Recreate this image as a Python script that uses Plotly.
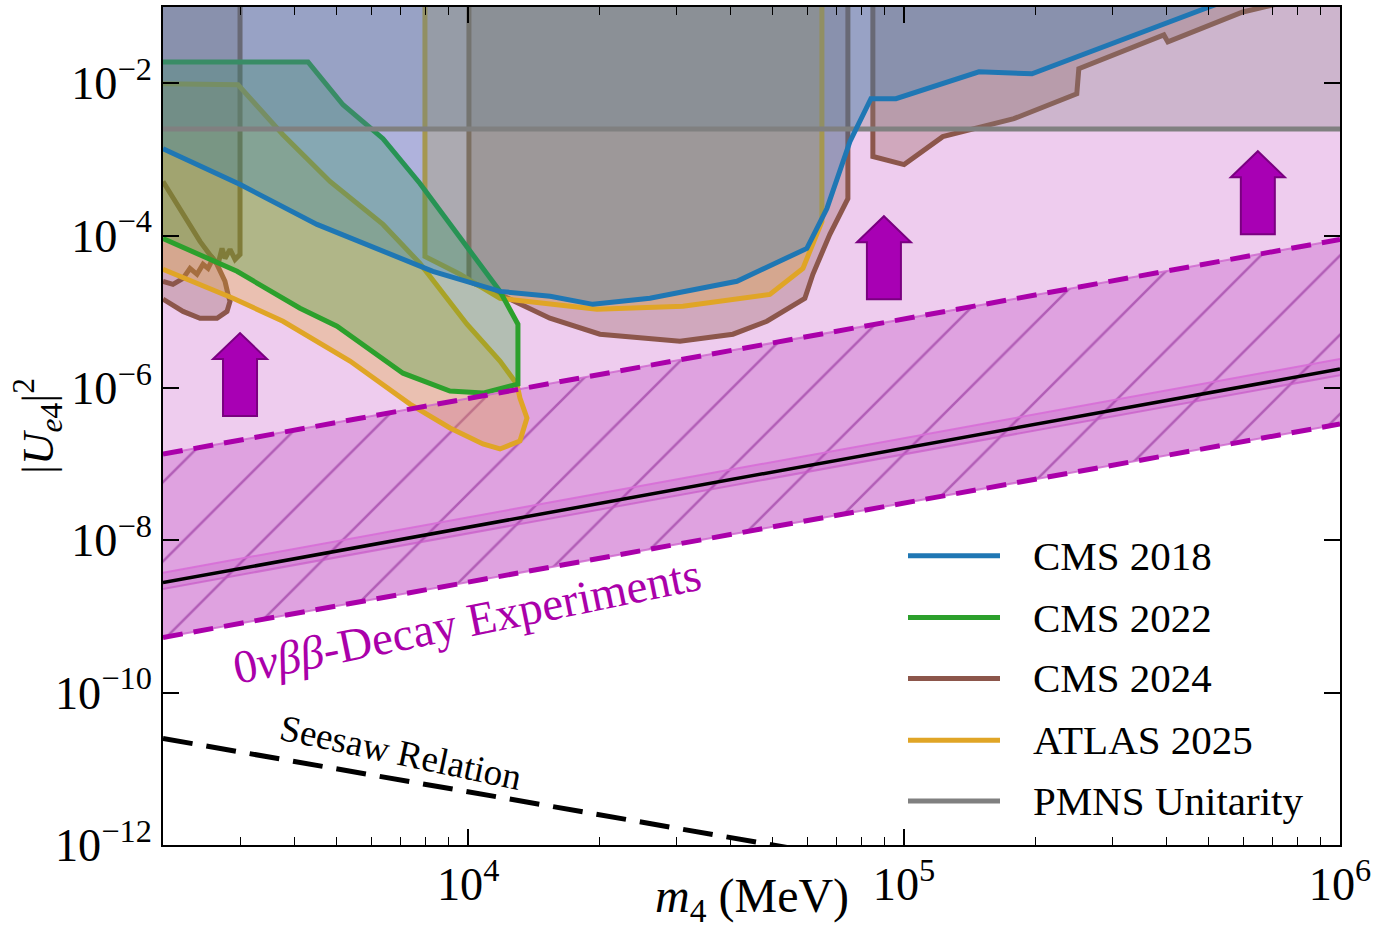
import numpy as np
import plotly.graph_objects as go

# ------------------------------------------------------------------ data
U_TOP = 1.0          # closes exclusion regions above the visible range
M_LEFT = 1995.0
M_RIGHT = 1.0e6

# CMS 2018 (excluded above the line)
cms2018_m = [1995, 3000, 4500, 6380, 8300, 11830, 15420, 19330, 26120, 41360,
             59840, 66520, 75110, 83930, 95770, 148500, 196500, 487200, 618000]
cms2018_U = [1.38e-3, 4.67e-4, 1.40e-4, 6.19e-5, 3.39e-5, 1.85e-5, 1.60e-5, 1.25e-5,
             1.50e-5, 2.51e-5, 6.78e-5, 2.26e-4, 1.71e-3, 6.25e-3, 6.25e-3, 1.41e-2,
             1.33e-2, 9.42e-2, 0.157]

# CMS 2022 (closed island)
cms2022_m = [1995, 4292, 5163, 6378, 7753, 9730, 11831, 13008, 13008, 10812, 9085,
             7088, 5002, 4114, 2950, 1995]
cms2022_U = [1.90e-2, 1.90e-2, 5.21e-3, 1.87e-3, 4.82e-4, 8.38e-5, 1.85e-5, 6.85e-6,
             1.12e-6, 8.55e-7, 9.10e-7, 1.56e-6, 6.46e-6, 1.11e-5, 3.39e-5, 9.16e-5]

# CMS 2024 (four pieces)
cms2024_a_m = [2997, 2997, 2919, 2843, 2768, 2725, 2668, 2598, 2531, 2465, 2388, 2301,
               2218, 2103, 1995]
cms2024_a_U = [U_TOP, 5.66e-5, 4.86e-5, 6.58e-5, 5.01e-5, 6.78e-5, 4.19e-5, 5.01e-5,
               3.71e-5, 4.19e-5, 3.10e-5, 3.71e-5, 2.74e-5, 2.29e-5, 2.51e-5]
cms2024_b_m = [1995, 2218, 2426, 2654, 2768, 2813, 2843, 2798, 2654, 2426, 2218, 2070, 1995]
cms2024_b_U = [5.12e-4, 1.89e-4, 8.38e-5, 4.19e-5, 2.51e-5, 1.69e-5, 1.37e-5, 1.01e-5,
               8.22e-6, 8.22e-6, 1.01e-5, 1.29e-5, 1.46e-5]
cms2024_c_m = [10042, 10042, 11831, 15400, 20060, 26120, 30610, 40490, 48450, 59210,
               61770, 67570, 74320, 74320]
cms2024_c_U = [U_TOP, 2.51e-5, 1.69e-5, 8.22e-6, 5.07e-6, 4.37e-6, 4.10e-6, 5.07e-6,
               7.50e-6, 1.50e-5, 3.10e-5, 1.04e-4, 3.06e-4, U_TOP]
cms2024_d_m = [84800, 84800, 100000, 122700, 178600, 216000, 249000, 251700, 394400,
               402800, 598600, 668700, 1000000, 1000000]
cms2024_d_U = [U_TOP, 1.09e-3, 8.53e-4, 1.99e-3, 3.42e-3, 5.21e-3, 7.26e-3, 1.55e-2,
               4.30e-2, 3.48e-2, 8.61e-2, 0.10, 0.17, U_TOP]

# ATLAS 2025 (island + upper region)
atlas_a_m = [1995, 2965, 3760, 4820, 6378, 7753, 9937, 11831, 12940, 13147, 13644,
             13147, 11831, 10812, 9085, 7355, 5357, 3760, 2888, 1995]
atlas_a_U = [9.8e-3, 9.52e-3, 2.11e-3, 5.12e-4, 1.40e-4, 4.31e-5, 6.85e-6, 2.25e-6,
             1.12e-6, 7.36e-7, 4.03e-7, 2.01e-7, 1.58e-7, 1.84e-7, 2.98e-7, 6.13e-7,
             2.25e-6, 7.50e-6, 1.50e-5, 3.60e-5]
atlas_b_m = [7960, 7960, 9576, 11831, 19740, 31100, 49220, 58610, 64790, 64790]
atlas_b_U = [U_TOP, 5.32e-5, 3.10e-5, 1.50e-5, 1.08e-5, 1.18e-5, 1.69e-5, 3.71e-5,
             1.53e-4, U_TOP]

# PMNS unitarity bound
pmns_U = 2.5e-3

# 0vbb band
band_m = [1995, 1.0e6]
band_upper = [1.35e-7, 8.9e-5]
band_lower = [5.3e-10, 3.36e-7]
central_U = [2.78e-9, 1.77e-6]
central_hi = [3.75e-9, 2.40e-6]
central_lo = [2.30e-9, 1.47e-6]

# Seesaw relation
seesaw_m = [1995, 1.0e5]
seesaw_U = [2.5e-11, 5.0e-13]

# arrows (bottom-centre anchors)
arrow_m = [2997, 89900, 647900]
arrow_U = [4.27e-7, 1.46e-5, 1.04e-4]

# text labels
label_0vbb = "0<i>νββ</i>-Decay Experiments"
label_0vbb_pos = (9930, 8.6e-10)
label_seesaw = "Seesaw Relation"
label_seesaw_pos = (7015, 1.65e-11)

legend_labels = ["CMS 2018", "CMS 2022", "CMS 2024", "ATLAS 2025", "PMNS Unitarity"]
C_BLUE, C_GREEN, C_BROWN, C_GOLD, C_GREY = "#1f77b4", "#2ca02c", "#8c564b", "#e0a526", "#808080"
legend_colors = [C_BLUE, C_GREEN, C_BROWN, C_GOLD, C_GREY]

FONT = "Liberation Serif"


def rgba(hexc, a):
    h = hexc.lstrip("#")
    return "rgba(%d,%d,%d,%.3f)" % (int(h[0:2], 16), int(h[2:4], 16), int(h[4:6], 16), a)


def join(*segs):
    xs, ys = [], []
    for mx, uy in segs:
        xs += list(mx) + [None]
        ys += list(uy) + [None]
    return xs, ys


def fill_trace(xs, ys, color):
    return go.Scatter(x=xs, y=ys, mode="lines", fill="toself", fillcolor=color,
                      line=dict(width=0, color=color), hoverinfo="skip", showlegend=False)


def line_trace(xs, ys, color, width=5, dash="solid"):
    return go.Scatter(x=xs, y=ys, mode="lines", line=dict(color=color, width=width, dash=dash),
                      hoverinfo="skip", showlegend=False, connectgaps=False)


fig = go.Figure()

# pink region above the 0vbb upper bound
fig.add_trace(fill_trace([M_LEFT, M_RIGHT, M_RIGHT, M_LEFT],
                         [band_upper[0], band_upper[1], U_TOP, U_TOP], "rgb(238,204,238)"))
# hatched 0vbb band
fig.add_trace(go.Scatter(x=band_m + band_m[::-1], y=band_upper + band_lower[::-1],
                         mode="lines", fill="toself", fillcolor="rgb(223,162,224)",
                         fillpattern=dict(shape="/", fgcolor="rgba(115,0,125,0.85)",
                                          bgcolor="rgb(223,162,224)", size=56, solidity=0.045),
                         line=dict(width=0), hoverinfo="skip", showlegend=False))
# central band
fig.add_trace(fill_trace(band_m + band_m[::-1], central_hi + central_lo[::-1],
                         "rgba(185,40,185,0.18)"))
fig.add_trace(line_trace(band_m, central_hi, "rgba(215,110,215,0.9)", width=2))
fig.add_trace(line_trace(band_m, central_lo, "rgba(200,90,200,0.7)", width=2))

# CMS 2024
bx, by = join((cms2024_a_m + [M_LEFT], cms2024_a_U + [U_TOP]),
              (cms2024_b_m, cms2024_b_U),
              (cms2024_c_m, cms2024_c_U),
              (cms2024_d_m, cms2024_d_U))
fig.add_trace(fill_trace(bx, by, rgba(C_BROWN, 0.3)))
lx, ly = join((cms2024_a_m, cms2024_a_U), (cms2024_b_m, cms2024_b_U),
              (cms2024_c_m, cms2024_c_U), (cms2024_d_m, cms2024_d_U))
fig.add_trace(line_trace(lx, ly, C_BROWN))

# ATLAS 2025
ax_, ay_ = join((atlas_a_m, atlas_a_U), (atlas_b_m, atlas_b_U))
fig.add_trace(fill_trace(ax_, ay_, rgba(C_GOLD, 0.3)))
fig.add_trace(line_trace(ax_, ay_, C_GOLD))

# CMS 2022
fig.add_trace(fill_trace(cms2022_m, cms2022_U, rgba(C_GREEN, 0.3)))
fig.add_trace(line_trace(cms2022_m, cms2022_U, C_GREEN))

# PMNS fill
fig.add_trace(fill_trace([M_LEFT, M_RIGHT, M_RIGHT, M_LEFT], [pmns_U, pmns_U, U_TOP, U_TOP],
                         rgba(C_GREY, 0.3)))
# CMS 2018 fill
fig.add_trace(fill_trace(cms2018_m + [cms2018_m[-1], M_LEFT], cms2018_U + [U_TOP, U_TOP],
                         rgba(C_BLUE, 0.3)))
# PMNS line
fig.add_trace(line_trace([M_LEFT, M_RIGHT], [pmns_U, pmns_U], C_GREY))
# CMS 2018 line
fig.add_trace(line_trace(cms2018_m, cms2018_U, C_BLUE))

# central black line
fig.add_trace(line_trace(band_m, central_U, "black", width=3.5))
# dashed bounds
for arr in (band_upper, band_lower):
    fig.add_trace(line_trace(band_m, arr, "rgba(205,100,205,0.8)", width=2))
    fig.add_trace(line_trace(band_m, arr, "#aa00aa", width=5, dash="20px,11px"))
# seesaw
fig.add_trace(line_trace(seesaw_m, seesaw_U, "black", width=5, dash="30px,14px"))

# arrows
arrow_path = "M -17 0 L 17 0 L 17 57 L 27 57 L 0 83 L -27 57 L -17 57 Z"
shapes = []
for m, u in zip(arrow_m, arrow_U):
    shapes.append(dict(type="path", xref="x", yref="y", xsizemode="pixel", ysizemode="pixel",
                       xanchor=m, yanchor=u, path=arrow_path, fillcolor="#a800b4",
                       line=dict(color="#7a0080", width=2), layer="above"))

# manual legend
L, R, T, B = 163, 50, 5, 88
W, H = 1390, 933
pw, ph = W - L - R, H - T - B


def px(xp):
    return (xp - L) / pw


def py(yp):
    return (H - B - yp) / ph


annotations = []
rows = [555, 617, 678, 740, 801]
for lab, col, yr in zip(legend_labels, legend_colors, rows):
    shapes.append(dict(type="line", xref="paper", yref="paper", x0=px(908), x1=px(1000),
                       y0=py(yr), y1=py(yr), line=dict(color=col, width=5), layer="above"))
    annotations.append(dict(xref="paper", yref="paper", x=px(1031), y=py(yr), text=lab,
                            showarrow=False, xanchor="left", yanchor="middle",
                            font=dict(family=FONT, size=41, color="black")))

annotations.append(dict(xref="x", yref="y", x=np.log10(label_0vbb_pos[0]),
                        y=np.log10(label_0vbb_pos[1]), text=label_0vbb, showarrow=False,
                        textangle=-11.5, xanchor="center", yanchor="middle",
                        font=dict(family=FONT, size=47, color="#aa00aa")))
annotations.append(dict(xref="x", yref="y", x=np.log10(label_seesaw_pos[0]),
                        y=np.log10(label_seesaw_pos[1]), text=label_seesaw, showarrow=False,
                        textangle=12, xanchor="center", yanchor="middle",
                        font=dict(family=FONT, size=37, color="black")))
# axis titles
annotations.append(dict(xref="paper", yref="paper", x=px(752), y=py(899),
                        text="<i>m</i><sub>4</sub> (MeV)", showarrow=False,
                        xanchor="center", yanchor="middle",
                        font=dict(family=FONT, size=48, color="black")))
annotations.append(dict(xref="paper", yref="paper", x=px(37), y=py(425),
                        text="|<i>U</i><sub><i>e</i>4</sub>|<sup>2</sup>", showarrow=False,
                        textangle=-90, xanchor="center", yanchor="middle",
                        font=dict(family=FONT, size=45, color="black")))

axis_common = dict(type="log", showgrid=False, zeroline=False, showline=True,
                   linecolor="black", linewidth=1.5, mirror="ticks", ticks="inside",
                   ticklen=16, tickwidth=1.5, tickcolor="black", exponentformat="power",
                   tickfont=dict(family=FONT, size=37, color="black"))

fig.update_layout(
    width=W, height=H, margin=dict(l=L, r=R, t=T, b=B),
    paper_bgcolor="white", plot_bgcolor="white", showlegend=False,
    xaxis=dict(range=[3.3, 6.0], dtick=1,
               minor=dict(ticks="inside", ticklen=8, tickwidth=1, tickcolor="black",
                          dtick="D1", showgrid=False),
               **axis_common),
    yaxis=dict(range=[-12, -1], dtick=2, tick0=0, ticklabelstandoff=2, **axis_common),
    shapes=shapes, annotations=annotations,
)

fig.write_html("out.html", config={"displayModeBar": False},
               post_script="document.body.style.margin='0';")
